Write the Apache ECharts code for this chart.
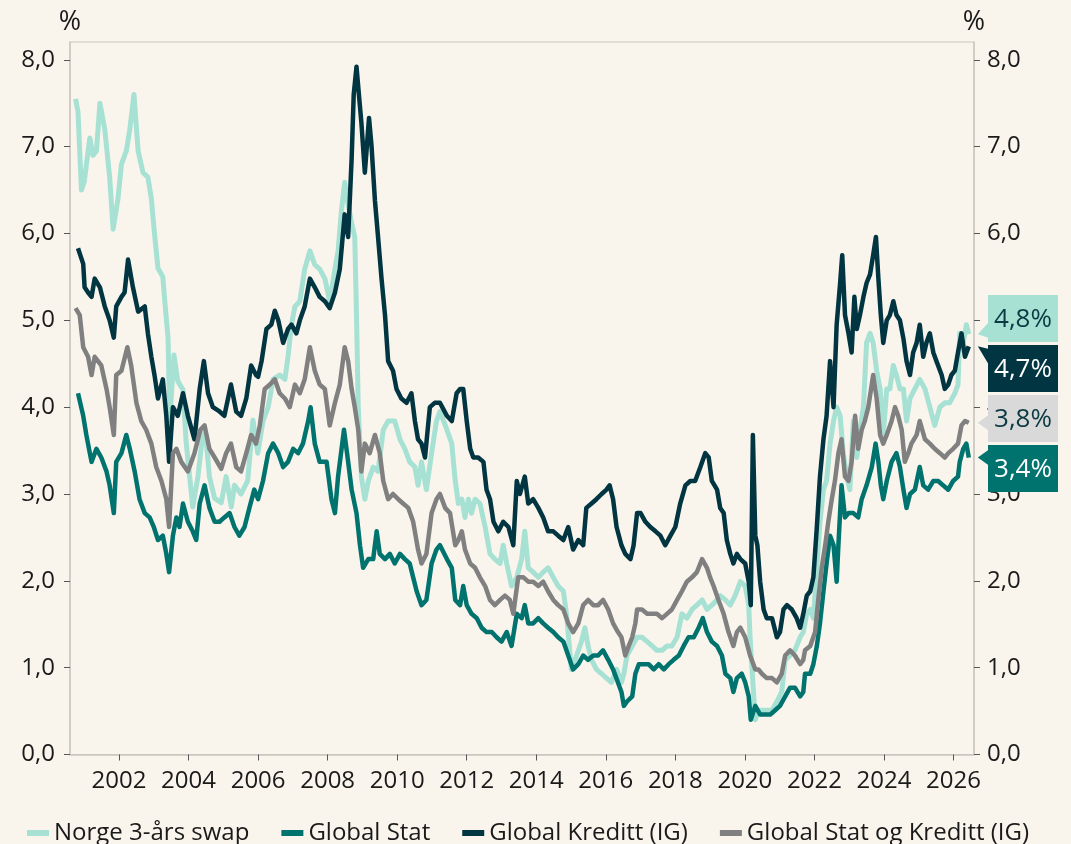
<!DOCTYPE html>
<html>
<head>
<meta charset="utf-8">
<script src="https://cdn.jsdelivr.net/npm/echarts@6/dist/echarts.min.js"></script>
<style>
html,body{margin:0;padding:0;background:#f9f5ec;}
#c{width:1071px;height:844px;}
</style>
</head>
<body>
<div id="c"></div>
<script>
const seriesNames = ['Norge 3-års swap', 'Global Stat', 'Global Kreditt (IG)', 'Global Stat og Kreditt (IG)'];
const yearTicks = [2002, 2004, 2006, 2008, 2010, 2012, 2014, 2016, 2018, 2020, 2022, 2024, 2026];
const valueTicks = [0, 1, 2, 3, 4, 5, 6, 7, 8];

const swap = [
[2000.75,7.55],[2000.82,7.4],[2000.92,6.5],[2001.0,6.6],[2001.16,7.1],[2001.25,6.9],[2001.35,6.95],[2001.45,7.5],[2001.59,7.2],[2001.73,6.65],[2001.83,6.05],[2001.97,6.4],[2002.07,6.8],[2002.21,6.95],[2002.31,7.2],[2002.43,7.6],[2002.55,6.95],[2002.69,6.7],[2002.83,6.65],[2002.93,6.4],[2003.02,6.0],[2003.12,5.6],[2003.26,5.5],[2003.31,5.25],[2003.41,4.8],[2003.46,3.85],[2003.58,4.6],[2003.69,4.3],[2003.84,4.2],[2003.93,3.6],[2004.12,2.85],[2004.27,3.2],[2004.41,3.7],[2004.51,3.6],[2004.6,3.2],[2004.75,2.95],[2004.94,2.9],[2005.08,3.2],[2005.23,2.85],[2005.32,3.1],[2005.51,3.0],[2005.7,3.15],[2005.85,3.85],[2005.99,3.47],
[2006.14,3.84],[2006.29,4.0],[2006.43,4.32],[2006.62,4.37],[2006.77,4.32],[2006.86,4.58],[2006.96,4.95],[2007.06,5.16],[2007.2,5.22],[2007.34,5.59],[2007.49,5.8],[2007.63,5.64],[2007.77,5.59],[2007.92,5.48],[2008.06,5.22],[2008.21,5.59],[2008.3,5.8],[2008.4,6.27],[2008.49,6.59],[2008.59,6.33],[2008.69,6.12],[2008.78,5.96],[2008.83,5.06],[2008.88,4.0],[2008.97,3.2],[2009.07,2.94],[2009.17,3.15],[2009.31,3.31],[2009.45,3.26],[2009.6,3.74],[2009.74,3.84],[2009.93,3.84],[2010.08,3.63],[2010.22,3.52],[2010.36,3.37],[2010.51,3.31],[2010.6,3.1],[2010.7,3.37],[2010.84,3.05],[2010.99,3.47],[2011.13,3.84],[2011.23,3.95],
[2011.43,3.74],[2011.57,3.58],[2011.67,3.15],[2011.76,2.89],[2011.86,2.94],[2011.95,2.73],[2012.05,2.94],[2012.14,2.78],[2012.24,2.94],[2012.38,2.89],[2012.53,2.62],[2012.67,2.31],[2012.81,2.25],[2012.96,2.2],[2013.05,2.41],[2013.15,2.2],[2013.29,1.94],[2013.44,2.04],[2013.58,2.25],[2013.67,2.57],[2013.77,2.15],[2013.91,2.1],[2014.06,2.04],[2014.2,2.1],[2014.34,2.15],[2014.49,2.04],[2014.63,1.94],[2014.78,1.88],[2014.87,1.62],[2015.01,0.98],[2015.16,1.14],[2015.3,1.3],[2015.4,1.46],[2015.49,1.25],[2015.59,1.09],[2015.73,0.98],[2015.88,0.93],[2016.02,0.88],[2016.16,0.83],[2016.31,0.98],[2016.45,0.83],
[2016.52,0.93],[2016.61,1.14],[2016.76,1.25],[2016.9,1.35],[2017.04,1.35],[2017.19,1.3],[2017.33,1.25],[2017.47,1.2],[2017.62,1.2],[2017.76,1.25],[2017.9,1.25],[2018.05,1.35],[2018.19,1.62],[2018.33,1.57],[2018.48,1.67],[2018.62,1.72],[2018.77,1.78],[2018.91,1.67],[2019.05,1.72],[2019.2,1.78],[2019.29,1.83],[2019.44,1.78],[2019.58,1.72],[2019.72,1.83],[2019.87,1.99],[2020.01,1.94],[2020.11,1.72],[2020.15,1.35],[2020.23,0.83],[2020.3,0.4],[2020.39,0.51],[2020.49,0.51],[2020.63,0.51],[2020.78,0.51],[2020.92,0.61],[2021.06,0.72],[2021.16,1.09],[2021.3,1.14],[2021.44,1.2],[2021.59,1.35],[2021.68,1.41],
[2021.78,1.62],[2021.88,1.67],[2021.97,1.57],[2022.07,2.15],[2022.16,2.68],[2022.26,3.05],[2022.35,3.15],[2022.45,3.58],[2022.55,3.84],[2022.64,4.0],[2022.74,3.9],[2022.83,3.47],[2022.93,3.2],[2023.02,3.05],[2023.12,3.84],[2023.22,3.42],[2023.31,3.74],[2023.41,4.0],[2023.5,4.74],[2023.6,4.85],[2023.69,4.74],[2023.79,4.42],[2023.89,4.21],[2023.98,3.68],[2024.08,4.21],[2024.17,4.21],[2024.27,4.48],[2024.36,4.37],[2024.46,4.21],[2024.56,4.21],[2024.65,3.84],[2024.75,4.1],[2024.89,4.21],[2025.03,4.32],[2025.18,4.21],[2025.32,4.0],[2025.46,3.79],[2025.61,4.0],[2025.75,4.05],[2025.89,4.05],[2026.04,4.16],[2026.13,4.26],[2026.18,4.85],[2026.28,4.74],[2026.37,4.95],[2026.44,4.84]
];

const stat = [
[2000.82,4.16],[2000.97,3.9],[2001.06,3.68],[2001.16,3.47],[2001.21,3.37],[2001.35,3.52],[2001.49,3.42],[2001.64,3.26],[2001.73,3.1],[2001.85,2.78],[2001.92,3.37],[2002.07,3.47],[2002.21,3.68],[2002.31,3.52],[2002.45,3.26],[2002.59,2.94],[2002.74,2.78],[2002.88,2.73],[2003.0,2.62],[2003.12,2.47],[2003.26,2.52],[2003.36,2.31],[2003.44,2.1],[2003.55,2.52],[2003.65,2.73],[2003.74,2.62],[2003.84,2.89],[2003.98,2.68],[2004.12,2.57],[2004.22,2.47],[2004.32,2.89],[2004.46,3.1],[2004.6,2.84],[2004.75,2.68],[2004.89,2.68],[2005.03,2.73],[2005.18,2.78],[2005.32,2.62],[2005.46,2.52],[2005.61,2.62],[2005.75,2.84],[2005.89,3.05],
[2006.0,2.94],[2006.14,3.15],[2006.29,3.47],[2006.43,3.58],[2006.58,3.47],[2006.72,3.31],[2006.86,3.37],[2007.01,3.52],[2007.15,3.47],[2007.29,3.58],[2007.44,3.84],[2007.51,4.0],[2007.63,3.58],[2007.77,3.37],[2007.97,3.37],[2008.11,2.94],[2008.21,2.78],[2008.3,3.2],[2008.47,3.74],[2008.59,3.37],[2008.69,3.05],[2008.83,2.78],[2008.93,2.41],[2009.02,2.15],[2009.17,2.25],[2009.31,2.25],[2009.41,2.57],[2009.5,2.31],[2009.65,2.25],[2009.79,2.31],[2009.93,2.2],[2010.08,2.31],[2010.22,2.25],[2010.36,2.2],[2010.46,2.04],[2010.56,1.88],[2010.7,1.72],[2010.84,1.78],[2010.99,2.2],[2011.13,2.36],[2011.23,2.41],
[2011.43,2.25],[2011.57,2.15],[2011.67,1.78],[2011.81,1.72],[2011.9,1.94],[2012.0,1.72],[2012.14,1.62],[2012.29,1.57],[2012.43,1.46],[2012.57,1.41],[2012.72,1.41],[2012.86,1.35],[2013.0,1.3],[2013.15,1.41],[2013.29,1.25],[2013.44,1.62],[2013.58,1.57],[2013.67,1.72],[2013.77,1.51],[2013.91,1.51],[2014.06,1.57],[2014.2,1.51],[2014.34,1.46],[2014.49,1.41],[2014.63,1.35],[2014.78,1.3],[2014.92,1.14],[2015.06,0.98],[2015.21,1.04],[2015.35,1.14],[2015.49,1.09],[2015.64,1.14],[2015.78,1.14],[2015.92,1.2],[2016.07,1.09],[2016.21,0.98],[2016.35,0.83],[2016.45,0.72],
[2016.52,0.56],[2016.61,0.61],[2016.76,0.67],[2016.85,0.93],[2016.95,1.04],[2017.09,1.04],[2017.23,1.04],[2017.38,0.98],[2017.52,1.04],[2017.67,0.98],[2017.81,1.04],[2017.95,1.09],[2018.1,1.14],[2018.24,1.25],[2018.38,1.35],[2018.53,1.35],[2018.67,1.46],[2018.79,1.57],[2018.91,1.41],[2019.05,1.3],[2019.2,1.25],[2019.34,1.14],[2019.44,0.93],[2019.58,0.88],[2019.67,0.72],[2019.77,0.88],[2019.91,0.93],[2020.01,0.83],[2020.11,0.67],[2020.17,0.4],[2020.3,0.56],[2020.44,0.46],[2020.58,0.46],[2020.73,0.46],[2020.87,0.51],[2021.01,0.56],[2021.16,0.67],[2021.3,0.77],[2021.44,0.77],[2021.59,0.67],[2021.68,0.72],
[2021.73,0.93],[2021.88,0.93],[2021.97,1.04],[2022.07,1.25],[2022.16,1.51],[2022.26,1.88],[2022.35,2.2],[2022.45,2.52],[2022.55,2.41],[2022.64,1.99],[2022.69,2.41],[2022.78,3.1],[2022.88,2.73],[2022.98,2.78],[2023.12,2.78],[2023.26,2.73],[2023.36,2.94],[2023.5,3.1],[2023.65,3.31],[2023.76,3.58],[2023.84,3.37],[2023.91,3.1],[2023.98,2.94],[2024.08,3.15],[2024.22,3.37],[2024.36,3.47],[2024.46,3.31],[2024.56,3.05],[2024.65,2.84],[2024.75,3.0],[2024.89,3.05],[2025.03,3.31],[2025.13,3.1],[2025.27,3.05],[2025.42,3.15],[2025.56,3.15],[2025.7,3.1],[2025.85,3.05],[2025.99,3.15],[2026.13,3.2],[2026.18,3.37],[2026.28,3.52],[2026.37,3.58],[2026.44,3.42]
];

const kreditt = [
[2000.82,5.83],[2000.97,5.65],[2001.01,5.38],[2001.11,5.32],[2001.21,5.27],[2001.3,5.48],[2001.45,5.38],[2001.59,5.16],[2001.73,5.0],[2001.85,4.8],[2001.92,5.16],[2002.07,5.27],[2002.16,5.32],[2002.26,5.7],[2002.4,5.38],[2002.55,5.1],[2002.74,5.16],[2002.83,4.85],[2002.93,4.58],[2003.02,4.37],[2003.12,4.1],[2003.26,4.32],[2003.36,3.9],[2003.44,3.37],[2003.55,4.0],[2003.69,3.9],[2003.84,4.16],[2003.98,3.9],[2004.17,3.63],[2004.32,4.21],[2004.44,4.53],[2004.56,4.16],[2004.7,4.0],[2004.89,3.95],[2005.03,3.9],[2005.22,4.26],[2005.37,3.95],[2005.51,3.9],[2005.66,4.1],[2005.8,4.48],[2005.94,4.37],
[2006.0,4.35],[2006.1,4.53],[2006.24,4.9],[2006.38,4.95],[2006.48,5.11],[2006.58,5.0],[2006.72,4.74],[2006.86,4.9],[2006.96,4.95],[2007.1,4.85],[2007.2,5.0],[2007.34,5.16],[2007.49,5.48],[2007.63,5.38],[2007.77,5.27],[2007.92,5.22],[2008.06,5.14],[2008.21,5.32],[2008.35,5.59],[2008.49,6.22],[2008.59,5.96],[2008.69,6.86],[2008.75,7.6],[2008.83,7.92],[2008.91,7.55],[2008.97,7.28],[2009.07,6.7],[2009.12,6.96],[2009.19,7.33],[2009.26,7.02],[2009.36,6.38],[2009.45,5.96],[2009.55,5.48],[2009.65,5.06],[2009.74,4.53],[2009.88,4.42],[2009.98,4.21],[2010.12,4.1],[2010.27,4.05],[2010.41,4.16],[2010.51,3.84],[2010.6,3.63],[2010.7,3.58],[2010.8,3.42],[2010.94,4.0],[2011.08,4.05],[2011.23,4.05],
[2011.43,3.9],[2011.57,3.84],[2011.71,4.16],[2011.81,4.21],[2011.9,4.21],[2012.0,3.84],[2012.1,3.52],[2012.19,3.42],[2012.33,3.42],[2012.48,3.37],[2012.57,3.05],[2012.67,2.94],[2012.77,2.68],[2012.91,2.57],[2013.05,2.68],[2013.2,2.62],[2013.34,2.41],[2013.44,3.15],[2013.53,3.0],[2013.67,3.2],[2013.77,2.89],[2013.91,2.94],[2014.06,2.84],[2014.2,2.73],[2014.34,2.57],[2014.49,2.57],[2014.63,2.52],[2014.78,2.47],[2014.92,2.62],[2015.06,2.36],[2015.21,2.47],[2015.35,2.41],[2015.44,2.84],[2015.59,2.89],[2015.73,2.94],[2015.88,3.0],[2016.02,3.05],[2016.11,3.1],[2016.21,2.94],[2016.31,2.62],[2016.45,2.41],
[2016.56,2.31],[2016.71,2.25],[2016.8,2.41],[2016.9,2.78],[2017.0,2.78],[2017.14,2.68],[2017.28,2.62],[2017.43,2.57],[2017.57,2.52],[2017.71,2.41],[2017.86,2.52],[2018.0,2.62],[2018.14,2.89],[2018.29,3.1],[2018.43,3.15],[2018.57,3.15],[2018.72,3.31],[2018.86,3.47],[2018.96,3.42],[2019.05,3.15],[2019.2,3.05],[2019.29,2.84],[2019.39,2.78],[2019.48,2.47],[2019.58,2.31],[2019.67,2.2],[2019.77,2.31],[2019.87,2.25],[2020.01,2.2],[2020.11,1.99],[2020.17,1.72],[2020.23,3.68],[2020.3,2.52],[2020.36,2.41],[2020.44,1.99],[2020.54,1.67],[2020.63,1.57],[2020.78,1.57],[2020.92,1.35],[2021.01,1.41],[2021.11,1.67],[2021.21,1.72],[2021.35,1.67],[2021.49,1.57],[2021.59,1.46],[2021.68,1.62],
[2021.78,1.83],[2021.88,1.88],[2021.97,2.04],[2022.07,2.62],[2022.16,3.2],[2022.26,3.63],[2022.35,3.9],[2022.45,4.53],[2022.55,4.0],[2022.64,4.95],[2022.74,5.43],[2022.8,5.75],[2022.88,5.06],[2022.98,4.85],[2023.07,4.63],[2023.15,5.27],[2023.22,4.9],[2023.31,5.06],[2023.41,5.27],[2023.5,5.43],[2023.6,5.53],[2023.69,5.75],[2023.77,5.96],[2023.84,5.48],[2023.91,5.06],[2023.98,4.74],[2024.08,5.0],[2024.17,5.06],[2024.27,5.22],[2024.36,5.06],[2024.46,5.0],[2024.56,4.79],[2024.65,4.53],[2024.75,4.37],[2024.84,4.63],[2024.94,4.74],[2025.03,4.95],[2025.13,4.58],[2025.22,4.74],[2025.32,4.85],[2025.42,4.63],[2025.51,4.53],[2025.66,4.37],[2025.75,4.21],[2025.85,4.26],[2025.94,4.37],[2026.04,4.42],[2026.13,4.63],[2026.23,4.85],[2026.33,4.58],[2026.44,4.7]
];

const statKreditt = [
[2000.75,5.14],[2000.87,5.06],[2000.97,4.69],[2001.11,4.58],[2001.21,4.37],[2001.3,4.58],[2001.49,4.48],[2001.64,4.21],[2001.73,4.0],[2001.85,3.68],[2001.92,4.37],[2002.07,4.42],[2002.24,4.69],[2002.35,4.48],[2002.5,4.05],[2002.64,3.84],[2002.78,3.74],[2002.93,3.58],[2003.07,3.31],[2003.22,3.15],[2003.36,2.94],[2003.44,2.62],[2003.55,3.47],[2003.65,3.52],[2003.79,3.37],[2003.98,3.26],[2004.17,3.47],[2004.34,3.74],[2004.46,3.79],[2004.6,3.52],[2004.75,3.42],[2004.94,3.29],[2005.08,3.47],[2005.22,3.58],[2005.37,3.31],[2005.51,3.26],[2005.66,3.47],[2005.8,3.68],[2005.94,3.58],
[2006.05,3.79],[2006.19,4.21],[2006.34,4.26],[2006.48,4.32],[2006.62,4.16],[2006.77,4.1],[2006.91,4.0],[2007.06,4.26],[2007.2,4.16],[2007.34,4.32],[2007.49,4.69],[2007.63,4.42],[2007.77,4.26],[2007.92,4.21],[2008.06,3.79],[2008.21,4.05],[2008.35,4.26],[2008.49,4.69],[2008.59,4.53],[2008.69,4.21],[2008.78,4.0],[2008.88,3.74],[2008.97,3.26],[2009.07,3.58],[2009.21,3.47],[2009.36,3.68],[2009.5,3.47],[2009.6,3.15],[2009.74,2.94],[2009.88,3.0],[2010.03,2.94],[2010.17,2.89],[2010.32,2.84],[2010.46,2.68],[2010.6,2.36],[2010.7,2.2],[2010.84,2.31],[2010.99,2.78],[2011.13,2.94],[2011.23,3.0],
[2011.38,2.84],[2011.52,2.78],[2011.67,2.41],[2011.76,2.47],[2011.86,2.57],[2011.95,2.36],[2012.1,2.2],[2012.24,2.15],[2012.38,2.04],[2012.53,1.94],[2012.67,1.78],[2012.81,1.72],[2012.96,1.78],[2013.1,1.83],[2013.24,1.78],[2013.34,1.62],[2013.48,2.04],[2013.63,2.04],[2013.77,1.99],[2013.91,1.99],[2014.06,1.94],[2014.2,1.99],[2014.34,1.88],[2014.49,1.78],[2014.63,1.72],[2014.78,1.67],[2014.92,1.51],[2015.06,1.41],[2015.21,1.51],[2015.35,1.72],[2015.49,1.78],[2015.64,1.72],[2015.78,1.72],[2015.92,1.78],[2016.07,1.67],[2016.21,1.51],[2016.35,1.41],[2016.45,1.35],
[2016.56,1.14],[2016.66,1.25],[2016.76,1.35],[2016.85,1.51],[2016.9,1.67],[2017.04,1.67],[2017.19,1.62],[2017.33,1.62],[2017.47,1.62],[2017.62,1.57],[2017.76,1.62],[2017.9,1.67],[2018.05,1.78],[2018.19,1.88],[2018.33,1.99],[2018.48,2.04],[2018.62,2.1],[2018.77,2.25],[2018.91,2.15],[2019.0,2.04],[2019.1,1.94],[2019.24,1.78],[2019.39,1.62],[2019.53,1.41],[2019.67,1.25],[2019.77,1.41],[2019.87,1.46],[2020.01,1.35],[2020.15,1.14],[2020.3,0.98],[2020.39,0.98],[2020.49,0.93],[2020.63,0.88],[2020.78,0.88],[2020.92,0.83],[2021.06,0.93],[2021.16,1.14],[2021.3,1.2],[2021.44,1.14],[2021.59,1.04],[2021.68,1.09],
[2021.73,1.2],[2021.88,1.25],[2022.02,1.41],[2022.11,1.78],[2022.21,2.15],[2022.31,2.41],[2022.4,2.68],[2022.5,2.94],[2022.59,3.15],[2022.69,3.47],[2022.78,3.63],[2022.88,3.2],[2022.98,3.15],[2023.07,3.37],[2023.17,3.9],[2023.26,3.52],[2023.36,3.74],[2023.45,3.84],[2023.55,4.0],[2023.69,4.37],[2023.79,4.1],[2023.89,3.68],[2023.98,3.58],[2024.08,3.68],[2024.22,3.84],[2024.32,4.0],[2024.41,3.9],[2024.51,3.74],[2024.6,3.37],[2024.7,3.47],[2024.79,3.58],[2024.94,3.68],[2025.03,3.84],[2025.18,3.63],[2025.32,3.58],[2025.46,3.52],[2025.61,3.47],[2025.75,3.42],[2025.85,3.47],[2025.99,3.52],[2026.13,3.58],[2026.23,3.79],[2026.33,3.84],[2026.44,3.82]
];

const seriesData = [swap, stat, kreditt, statKreditt];
const colors = ['#a6e1d4', '#00736f', '#003541', '#808080'];

const FONT = 'Open Sans';
const TXT = '#1a1a1a';
const AXIS_COLOR = '#cbc7c0';

const chart = echarts.init(document.getElementById('c'), null, {renderer: 'canvas'});

const fmt = v => v.toFixed(1).replace('.', ',');

function yAxisCfg(pos, margin) {
  return {
    type: 'value', position: pos, min: 0, max: 8.205,
    name: '%', nameLocation: 'end', nameGap: 6,
    nameTextStyle: {fontSize: 27, color: TXT, fontFamily: FONT, align: 'center'},
    axisLine: {show: true, lineStyle: {color: AXIS_COLOR, width: 1.5}},
    axisTick: {show: true, customValues: valueTicks, length: 6, lineStyle: {color: '#555'}},
    axisLabel: {customValues: valueTicks, formatter: v => fmt(v), fontSize: 24, color: TXT, fontFamily: FONT, margin: margin},
    splitLine: {show: false}
  };
}

const option = {
  backgroundColor: '#f9f5ec',
  animation: false,
  textStyle: {fontFamily: FONT},
  grid: {left: 70, right: 97, top: 42, bottom: 89.5, show: true, borderColor: AXIS_COLOR, borderWidth: 1, backgroundColor: 'transparent'},
  legend: {
    left: 22, top: 816, itemGap: 32, itemWidth: 22, itemHeight: 6, icon: 'rect',
    textStyle: {fontSize: 24, color: TXT, fontFamily: FONT},
    data: seriesNames
  },
  xAxis: {
    type: 'value', min: 2000.59, max: 2026.59,
    axisLine: {show: true, lineStyle: {color: AXIS_COLOR, width: 1.5}},
    axisTick: {show: true, customValues: yearTicks, length: 6, lineStyle: {color: '#555'}},
    axisLabel: {customValues: yearTicks, formatter: v => String(Math.round(v)), fontSize: 24, color: TXT, fontFamily: FONT, margin: 15},
    splitLine: {show: false}
  },
  yAxis: [yAxisCfg('left', 15), yAxisCfg('right', 13)],
  series: seriesNames.map((n, i) => ({
    name: n, type: 'line', data: seriesData[i], yAxisIndex: 0,
    showSymbol: false, symbol: 'none',
    lineStyle: {color: colors[i], width: i === 0 ? 5 : 4.5, join: 'round'},
    itemStyle: {color: colors[i]}
  }))
};
chart.setOption(option);

// end-value callout boxes (order top to bottom)
const boxOrder = [0, 2, 3, 1];
const boxFill = {0: '#a6e1d4', 2: '#003541', 3: '#d9d9d9', 1: '#00736f'};
const boxText = {0: '#0b3a44', 2: '#ffffff', 3: '#0b3a44', 1: '#ffffff'};
const boxTops = [295, 345, 395, 445];
const BOX_L = 988, BOX_W = 70, BOX_H = 47;
const graphics = [];
boxOrder.forEach((si, k) => {
  const d = seriesData[si];
  const last = d[d.length - 1];
  const p = chart.convertToPixel({xAxisIndex: 0, yAxisIndex: 0}, last);
  const top = boxTops[k], bottom = top + BOX_H;
  const tipX = p[0] + 9, tipY = p[1];
  const b1 = Math.max(top + 4, Math.min(tipY - 8, bottom - 20));
  const b2 = b1 + 16;
  graphics.push({type: 'polygon', shape: {points: [[BOX_L + 1, b1], [tipX, tipY], [BOX_L + 1, b2]]}, style: {fill: boxFill[si]}, z: 10});
  graphics.push({type: 'rect', shape: {x: BOX_L, y: top, width: BOX_W, height: BOX_H}, style: {fill: boxFill[si]}, z: 10});
  graphics.push({type: 'text', x: BOX_L + BOX_W / 2, y: top + BOX_H / 2 + 1, style: {text: fmt(last[1]) + '%', fill: boxText[si], fontSize: 26, fontFamily: FONT, align: 'center', verticalAlign: 'middle'}, z: 11});
});
chart.setOption({graphic: graphics});
</script>
</body>
</html>
